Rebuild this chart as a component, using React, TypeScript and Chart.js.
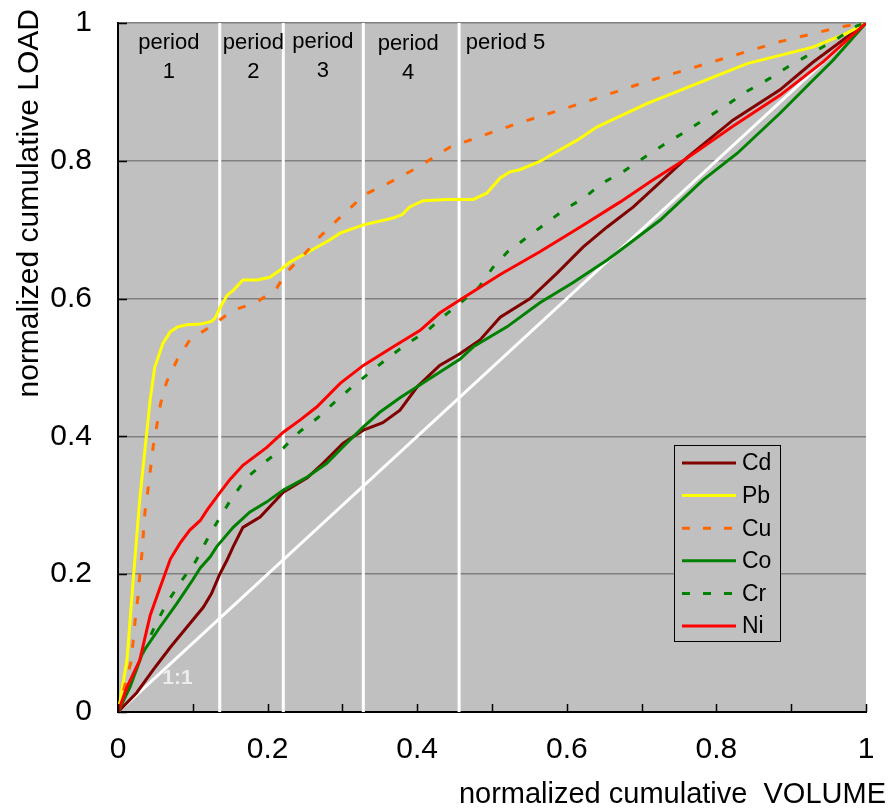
import React, { useEffect, useRef } from "react";
import { Chart, registerables } from "chart.js";

Chart.register(...registerables);

// ---- Data (normalized cumulative VOLUME, normalized cumulative LOAD) ----
const cdData: [number, number][] = [
  [0, 0], [0.025, 0.028], [0.047, 0.061], [0.07, 0.094], [0.092, 0.123], [0.114, 0.152],
  [0.125, 0.172], [0.136, 0.2], [0.146, 0.221], [0.154, 0.24], [0.167, 0.268], [0.19, 0.283],
  [0.221, 0.319], [0.253, 0.34], [0.274, 0.361], [0.301, 0.39], [0.328, 0.409], [0.354, 0.42],
  [0.377, 0.438], [0.4, 0.472], [0.43, 0.503], [0.457, 0.52], [0.484, 0.54], [0.511, 0.573],
  [0.551, 0.6], [0.587, 0.637], [0.622, 0.675], [0.654, 0.704], [0.689, 0.733], [0.725, 0.769],
  [0.761, 0.805], [0.822, 0.859], [0.885, 0.903], [0.929, 0.943], [1, 1],
];

const pbData: [number, number][] = [
  [0, 0], [0.003, 0.017], [0.012, 0.075], [0.02, 0.187], [0.029, 0.308], [0.043, 0.453],
  [0.049, 0.5], [0.06, 0.535], [0.07, 0.552], [0.08, 0.559], [0.092, 0.562], [0.11, 0.563],
  [0.125, 0.567], [0.13, 0.572], [0.138, 0.59], [0.146, 0.605], [0.154, 0.612], [0.167, 0.627],
  [0.186, 0.627], [0.203, 0.631], [0.215, 0.64], [0.23, 0.653], [0.255, 0.668], [0.283, 0.685],
  [0.297, 0.695], [0.328, 0.707], [0.368, 0.717], [0.38, 0.722], [0.39, 0.733], [0.408, 0.742],
  [0.44, 0.744], [0.475, 0.744], [0.493, 0.753], [0.511, 0.775], [0.524, 0.784], [0.537, 0.787],
  [0.564, 0.799], [0.591, 0.816], [0.614, 0.83], [0.64, 0.849], [0.707, 0.883], [0.774, 0.912],
  [0.841, 0.941], [0.929, 0.965], [0.974, 0.985], [1, 1],
];

const cuData: [number, number][] = [
  [0, 0], [0.017, 0.071], [0.02, 0.1], [0.023, 0.134], [0.027, 0.17], [0.029, 0.196],
  [0.032, 0.23], [0.036, 0.29], [0.04, 0.322], [0.047, 0.385], [0.057, 0.448], [0.065, 0.479],
  [0.079, 0.511], [0.096, 0.54], [0.127, 0.562], [0.154, 0.583], [0.186, 0.595], [0.212, 0.615],
  [0.226, 0.639], [0.248, 0.663], [0.27, 0.69], [0.293, 0.714], [0.315, 0.736], [0.328, 0.75],
  [0.364, 0.769], [0.4, 0.79], [0.444, 0.82], [0.528, 0.852], [0.618, 0.883], [0.707, 0.915],
  [0.796, 0.944], [0.885, 0.973], [0.969, 0.995], [1, 1],
];

const coData: [number, number][] = [
  [0, 0], [0.016, 0.036], [0.033, 0.086], [0.056, 0.123], [0.079, 0.158], [0.1, 0.192],
  [0.11, 0.209], [0.123, 0.225], [0.132, 0.24], [0.154, 0.268], [0.176, 0.29], [0.199, 0.305],
  [0.221, 0.322], [0.253, 0.341], [0.279, 0.361], [0.301, 0.385], [0.328, 0.414], [0.35, 0.435],
  [0.377, 0.456], [0.404, 0.475], [0.43, 0.493], [0.457, 0.512], [0.475, 0.53], [0.52, 0.559],
  [0.564, 0.594], [0.608, 0.623], [0.654, 0.656], [0.68, 0.677], [0.725, 0.714], [0.782, 0.772],
  [0.828, 0.811], [0.885, 0.869], [0.929, 0.917], [0.956, 0.946], [1, 1],
];

const crData: [number, number][] = [
  [0, 0], [0.016, 0.04], [0.039, 0.1], [0.052, 0.131], [0.067, 0.161], [0.086, 0.192],
  [0.104, 0.219], [0.119, 0.25], [0.136, 0.282], [0.152, 0.31], [0.172, 0.34], [0.198, 0.364],
  [0.221, 0.383], [0.243, 0.407], [0.267, 0.427], [0.29, 0.45], [0.313, 0.472], [0.337, 0.493],
  [0.361, 0.514], [0.386, 0.534], [0.413, 0.553], [0.435, 0.574], [0.459, 0.595], [0.483, 0.617],
  [0.501, 0.645], [0.521, 0.668], [0.547, 0.689], [0.573, 0.71], [0.598, 0.73], [0.624, 0.747],
  [0.648, 0.768], [0.675, 0.784], [0.701, 0.803], [0.729, 0.823], [0.755, 0.84], [0.785, 0.861],
  [0.814, 0.881], [0.841, 0.901], [0.872, 0.92], [0.901, 0.94], [0.929, 0.957], [0.961, 0.977],
  [0.988, 0.996], [1, 1],
];

const niData: [number, number][] = [
  [0, 0], [0.012, 0.036], [0.029, 0.075], [0.043, 0.14], [0.056, 0.18], [0.07, 0.222],
  [0.083, 0.245], [0.096, 0.264], [0.11, 0.278], [0.119, 0.293], [0.136, 0.318], [0.15, 0.338],
  [0.167, 0.358], [0.199, 0.384], [0.221, 0.406], [0.245, 0.425], [0.266, 0.443], [0.297, 0.477],
  [0.328, 0.503], [0.368, 0.53], [0.404, 0.554], [0.43, 0.579], [0.457, 0.598], [0.511, 0.635],
  [0.564, 0.668], [0.618, 0.704], [0.671, 0.74], [0.715, 0.772], [0.761, 0.804], [0.822, 0.85],
  [0.885, 0.895], [0.943, 0.944], [1, 1],
];

const oneToOne: [number, number][] = [[0, 0], [1, 1]];
const periodBounds = [0.136, 0.221, 0.328, 0.456];
const periodLabels: string[][] = [["period", "1"], ["period", "2"], ["period", "3"], ["period", "4"], ["period 5"]];
const periodLabelX = [0.068, 0.181, 0.274, 0.388, 0.465];
const yTickValues = [0, 0.2, 0.4, 0.6, 0.8, 1];
const xTickMarks = [0, 0.1, 0.2, 0.3, 0.4, 0.5, 0.6, 0.7, 0.8, 0.9, 1];

const SANS = '"Liberation Sans", Arial, sans-serif';

const toPts = (d: [number, number][]) => d.map(([x, y]) => ({ x, y }));

const fmt = (v: number) => {
  const r = Math.round(v * 10) / 10;
  if (r === 0) return "0";
  if (r === 1) return "1";
  return r.toFixed(1);
};

export default function App() {
  const ref = useRef<HTMLCanvasElement | null>(null);

  useEffect(() => {
    if (!ref.current) return;

    const series = [
      { label: "Cd", data: cdData, color: "#800000", dash: [] as number[] },
      { label: "Pb", data: pbData, color: "#ffff00", dash: [] as number[] },
      { label: "Cu", data: cuData, color: "#ff6600", dash: [8, 14] },
      { label: "Co", data: coData, color: "#008000", dash: [] as number[] },
      { label: "Cr", data: crData, color: "#008000", dash: [7, 14] },
      { label: "Ni", data: niData, color: "#ff0000", dash: [] as number[] },
    ];

    const datasets: any[] = series.map((s, i) => ({
      label: s.label,
      data: toPts(s.data),
      showLine: true,
      borderColor: s.color,
      backgroundColor: s.color,
      borderWidth: 3,
      borderDash: s.dash,
      pointRadius: 0,
      tension: 0,
      fill: false,
      order: 6 - i,
    }));

    datasets.push({
      label: "1:1",
      data: toPts(oneToOne),
      showLine: true,
      borderColor: "#ffffff",
      borderWidth: 3,
      pointRadius: 0,
      order: 20,
    });
    periodBounds.forEach((b, i) => {
      datasets.push({
        label: "bound" + i,
        data: [{ x: b, y: 0 }, { x: b, y: 1 }],
        showLine: true,
        borderColor: "#ffffff",
        borderWidth: 3,
        pointRadius: 0,
        order: 21,
      });
    });

    const bgPlugin = {
      id: "bgPlugin",
      beforeDraw(chart: any) {
        const { ctx, chartArea: a } = chart;
        ctx.save();
        ctx.fillStyle = "#c0c0c0";
        ctx.fillRect(a.left, a.top, a.right - a.left, a.bottom - a.top);
        ctx.restore();
      },
    };

    const decoPlugin = {
      id: "decoPlugin",
      afterDraw(chart: any) {
        const { ctx, chartArea: a, scales } = chart;
        const xs = scales.x;
        const ys = scales.y;
        ctx.save();

        // inward tick marks
        ctx.strokeStyle = "#000";
        ctx.lineWidth = 1.5;
        xTickMarks.forEach((v) => {
          const px = Math.round(xs.getPixelForValue(v)) + 0.5;
          ctx.beginPath();
          ctx.moveTo(px, a.bottom);
          ctx.lineTo(px, a.bottom - 8);
          ctx.stroke();
        });
        yTickValues.forEach((v) => {
          const py = Math.round(ys.getPixelForValue(v)) + 0.5;
          ctx.beginPath();
          ctx.moveTo(a.left, py);
          ctx.lineTo(a.left + 9, py);
          ctx.stroke();
        });

        // period labels
        ctx.fillStyle = "#000";
        ctx.font = `22px ${SANS}`;
        ctx.textBaseline = "middle";
        const lineOffsets = [0, 0, -1.5, 0.5, 0];
        periodLabels.forEach((lines, i) => {
          const y0 = a.top + 20 + lineOffsets[i];
          const px = xs.getPixelForValue(periodLabelX[i]);
          if (lines.length === 1) {
            ctx.textAlign = "left";
            ctx.fillText(lines[0], px, y0);
          } else {
            ctx.textAlign = "center";
            lines.forEach((t, k) => ctx.fillText(t, px, y0 + k * 29));
          }
        });

        // 1:1 label
        ctx.fillStyle = "#ececec";
        ctx.font = `bold 21px ${SANS}`;
        ctx.textAlign = "center";
        ctx.fillText("1:1", xs.getPixelForValue(0.0795), ys.getPixelForValue(0.049));

        // axis titles
        ctx.fillStyle = "#000";
        ctx.font = `29px ${SANS}`;
        ctx.textAlign = "right";
        ctx.textBaseline = "middle";
        ctx.fillText("normalized cumulative  VOLUME", 886, 795);

        ctx.save();
        ctx.font = `30px ${SANS}`;
        ctx.translate(30, 9);
        ctx.rotate(-Math.PI / 2);
        ctx.textAlign = "right";
        ctx.fillText("normalized cumulative LOAD", 0, 0);
        ctx.restore();

        // legend
        const lx = 674, ly = 445, lw = 106, lh = 196;
        ctx.fillStyle = "#c0c0c0";
        ctx.fillRect(lx, ly, lw, lh);
        ctx.strokeStyle = "#000";
        ctx.lineWidth = 1;
        ctx.strokeRect(lx + 0.5, ly + 0.5, lw, lh);
        ctx.font = `23px ${SANS}`;
        ctx.textAlign = "left";
        series.forEach((s, i) => {
          const ry = ly + 18 + i * 32.6;
          ctx.strokeStyle = s.color;
          ctx.lineWidth = 3;
          ctx.setLineDash(s.dash.length ? [8, 13] : []);
          ctx.beginPath();
          ctx.moveTo(lx + 8, ry);
          ctx.lineTo(lx + 62, ry);
          ctx.stroke();
          ctx.setLineDash([]);
          ctx.fillStyle = "#000";
          ctx.fillText(s.label, lx + 68, ry + 1);
        });

        ctx.restore();
      },
    };

    const zeroPad = (s: any) => {
      s.paddingTop = 0;
      s.paddingBottom = 0;
      s.paddingLeft = 0;
      s.paddingRight = 0;
    };

    const chart = new Chart(ref.current, {
      type: "scatter",
      data: { datasets },
      options: {
        animation: false,
        responsive: false,
        maintainAspectRatio: false,
        layout: { padding: { left: 0, top: 23, right: 24, bottom: 0 } },
        plugins: {
          legend: { display: false },
          tooltip: { enabled: false },
          title: { display: false },
        },
        scales: {
          x: {
            type: "linear",
            min: 0,
            max: 1,
            ticks: {
              stepSize: 0.2,
              autoSkip: false,
              maxRotation: 0,
              color: "#000",
              padding: 20,
              font: { family: SANS, size: 30 },
              callback: (v: any) => fmt(Number(v)),
            },
            grid: { color: "rgba(0,0,0,0)", drawTicks: false },
            border: { color: "#000", width: 2 },
            afterFit: (s: any) => {
              s.height = 98;
              zeroPad(s);
            },
          },
          y: {
            type: "linear",
            min: 0,
            max: 1,
            ticks: {
              stepSize: 0.2,
              color: "#000",
              padding: 26,
              font: { family: SANS, size: 30 },
              callback: (v: any) => fmt(Number(v)),
            },
            grid: {
              color: (c: any) => (c.tick && c.tick.value === 0 ? "rgba(0,0,0,0)" : "#808080"),
              lineWidth: 1.5,
              drawTicks: false,
            },
            border: { color: "#000", width: 2 },
            afterFit: (s: any) => {
              s.width = 118;
              zeroPad(s);
            },
          },
        },
      } as any,
      plugins: [bgPlugin, decoPlugin],
    });

    return () => chart.destroy();
  }, []);

  return (
    <div style={{ position: "absolute", left: 0, top: 0, width: 890, height: 810, background: "#fff" }}>
      <canvas ref={ref} width={890} height={810} style={{ width: 890, height: 810, display: "block" }} />
    </div>
  );
}
